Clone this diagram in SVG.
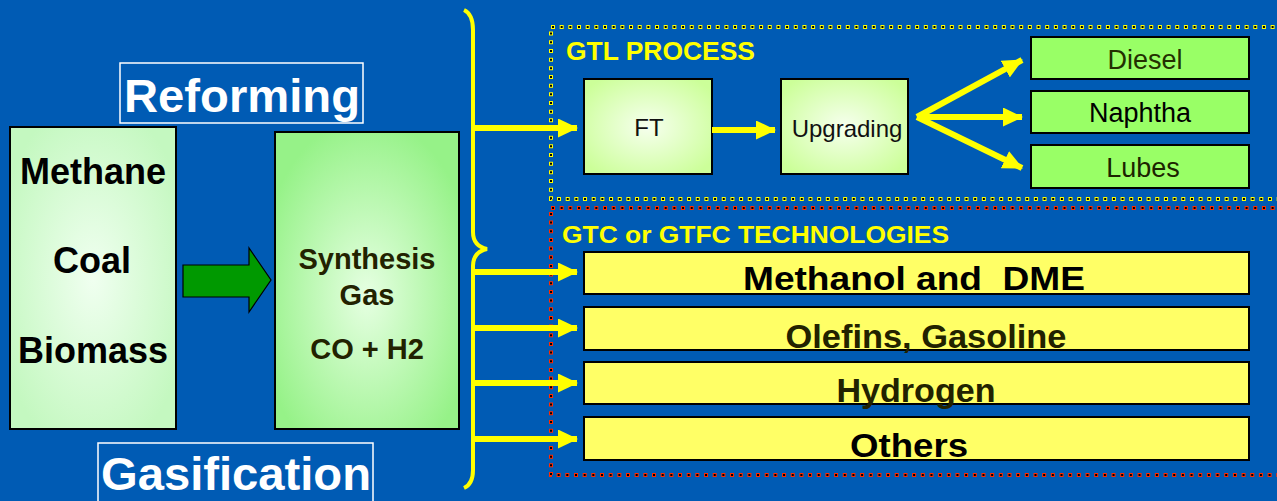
<svg xmlns="http://www.w3.org/2000/svg" width="1277" height="501" viewBox="0 0 1277 501">
  <style>
    text { font-family: "Liberation Sans", Arial, sans-serif; }
    .bold { font-weight: bold; }
    .box { stroke: #000; stroke-width: 2; }
    .label-box { fill: none; stroke: #fff; stroke-width: 1.5; }
    .big-white { fill: #fff; font-size: 47px; font-weight: bold; }
    .feed { fill: #000; font-size: 36px; font-weight: bold; text-anchor: middle; }
    .syn { fill: #222200; font-size: 29px; font-weight: bold; text-anchor: middle; }
    .proc { fill: #111; font-size: 24px; text-anchor: middle; }
    .prod { fill: #99ff66; }
    .prod-t { font-size: 27px; text-anchor: middle; }
    .tech { fill: #ffff66; }
    .tech-t { font-size: 33px; font-weight: bold; text-anchor: middle; white-space: pre; }
    .title { fill: #ffff00; font-weight: bold; }
    .flow { stroke: #ffff00; stroke-width: 6; fill: none; marker-end: url(#head); }
  </style>
  <defs>
    <radialGradient id="gFeed" cx="50%" cy="50%" r="60%">
      <stop offset="0" stop-color="#f0fff0"/>
      <stop offset="1" stop-color="#c4f8c0"/>
    </radialGradient>
    <radialGradient id="gSyn" cx="50%" cy="55%" r="60%">
      <stop offset="0" stop-color="#e6ffe2"/>
      <stop offset="1" stop-color="#96f288"/>
    </radialGradient>
    <radialGradient id="gProc" cx="50%" cy="50%" r="62%">
      <stop offset="0" stop-color="#f6ffee"/>
      <stop offset="1" stop-color="#ccff99"/>
    </radialGradient>
    <marker id="head" markerUnits="userSpaceOnUse" markerWidth="20" markerHeight="19" refX="19" refY="9.5" orient="auto">
      <path d="M0,0 L20,9.5 L0,19 Z" fill="#ffff00"/>
    </marker>
  </defs>

  <!-- backdrop -->
  <rect x="0" y="0" width="1277" height="501" fill="#005bb4"/>

  <!-- section frames (dotted square borders) -->
  <g id="gtl-frame">
    <rect x="551" y="27" width="760" height="172" fill="none" stroke="#ffff00" stroke-width="4" stroke-dasharray="4 4.67"/>
    <rect x="551" y="27" width="760" height="172" fill="none" stroke="#000" stroke-width="2" stroke-dasharray="2 6.67" stroke-dashoffset="-1"/>
    <text class="title" x="566" y="60" font-size="25" textLength="189" lengthAdjust="spacingAndGlyphs">GTL PROCESS</text>
  </g>
  <g id="gtc-frame">
    <rect x="551" y="208" width="760" height="267" fill="none" stroke="#ff2a00" stroke-width="4" stroke-dasharray="4 4.67"/>
    <rect x="551" y="208" width="760" height="267" fill="none" stroke="#000" stroke-width="2" stroke-dasharray="2 6.67" stroke-dashoffset="-1"/>
    <text class="title" x="562" y="243" font-size="24" textLength="387" lengthAdjust="spacingAndGlyphs">GTC or GTFC TECHNOLOGIES</text>
  </g>

  <!-- process labels -->
  <g id="reforming">
    <rect class="label-box" x="120" y="63" width="243" height="60"/>
    <text class="big-white" x="124" y="112" textLength="236" lengthAdjust="spacingAndGlyphs">Reforming</text>
  </g>
  <g id="gasification">
    <rect class="label-box" x="98" y="443" width="275" height="70"/>
    <text class="big-white" x="101" y="490" textLength="270" lengthAdjust="spacingAndGlyphs">Gasification</text>
  </g>

  <!-- feedstocks -->
  <g id="feedstock">
    <rect class="box" x="10" y="127" width="166" height="302" fill="url(#gFeed)"/>
    <text class="feed" x="93" y="184">Methane</text>
    <text class="feed" x="92" y="273">Coal</text>
    <text class="feed" x="93" y="363">Biomass</text>
  </g>

  <!-- block arrow to syngas -->
  <g id="feed-arrow">
    <path d="M183,265 L249,265 L249,248 L271,280 L249,312 L249,297 L183,297 Z" fill="#009900" stroke="#000" stroke-width="1.2"/>
  </g>

  <g id="syngas">
    <rect class="box" x="275" y="132" width="184" height="297" fill="url(#gSyn)"/>
    <text class="syn" x="367" y="269">Synthesis</text>
    <text class="syn" x="367" y="305">Gas</text>
    <text class="syn" x="367" y="359">CO + H2</text>
  </g>

  <!-- GTL route -->
  <g id="ft">
    <rect class="box" x="584" y="79" width="128" height="95" fill="url(#gProc)"/>
    <text class="proc" x="649" y="136" font-size="25">FT</text>
  </g>
  <g id="upgrading">
    <rect class="box" x="781" y="79" width="127" height="95" fill="url(#gProc)"/>
    <text class="proc" x="847" y="137">Upgrading</text>
  </g>
  <g id="diesel">
    <rect class="box prod" x="1031" y="37" width="218" height="42"/>
    <text class="prod-t" x="1145" y="69" fill="#243000">Diesel</text>
  </g>
  <g id="naphtha">
    <rect class="box prod" x="1031" y="91" width="218" height="42"/>
    <text class="prod-t" x="1140" y="122" fill="#000">Naphtha</text>
  </g>
  <g id="lubes">
    <rect class="box prod" x="1031" y="145" width="218" height="43"/>
    <text class="prod-t" x="1143" y="177" fill="#1c2400">Lubes</text>
  </g>

  <!-- GTC / GTFC products -->
  <g id="methanol">
    <rect class="box tech" x="584" y="252" width="665" height="42"/>
    <text class="tech-t" x="914" y="290" fill="#000" textLength="342" lengthAdjust="spacingAndGlyphs">Methanol and  DME</text>
  </g>
  <g id="olefins">
    <rect class="box tech" x="584" y="307" width="665" height="43"/>
    <text class="tech-t" x="926" y="348" fill="#222200" textLength="281" lengthAdjust="spacingAndGlyphs">Olefins, Gasoline</text>
  </g>
  <g id="hydrogen">
    <rect class="box tech" x="584" y="362" width="665" height="42"/>
    <text class="tech-t" x="916" y="402" fill="#222200" textLength="159" lengthAdjust="spacingAndGlyphs">Hydrogen</text>
  </g>
  <g id="others">
    <rect class="box tech" x="584" y="417" width="665" height="43"/>
    <text class="tech-t" x="909" y="457" fill="#000" textLength="118" lengthAdjust="spacingAndGlyphs">Others</text>
  </g>

  <!-- connectors -->
  <g id="connectors">
    <path d="M464,10 Q473,14 473,30 L473,232 Q473,246 487,249 Q473,252 473,266 L473,470 Q473,484 464,488" fill="none" stroke="#ffff00" stroke-width="4"/>
    <path class="flow" d="M473,128 L577,128"/>
    <path class="flow" d="M473,272 L577,272"/>
    <path class="flow" d="M473,328 L577,328"/>
    <path class="flow" d="M473,383 L577,383"/>
    <path class="flow" d="M473,439 L577,439"/>
    <path class="flow" d="M712,130 L775,130" stroke-width="7"/>
    <path class="flow" d="M917,117 L1022,60"/>
    <path class="flow" d="M917,117 L1022,117"/>
    <path class="flow" d="M917,117 L1022,168"/>
  </g>
</svg>
